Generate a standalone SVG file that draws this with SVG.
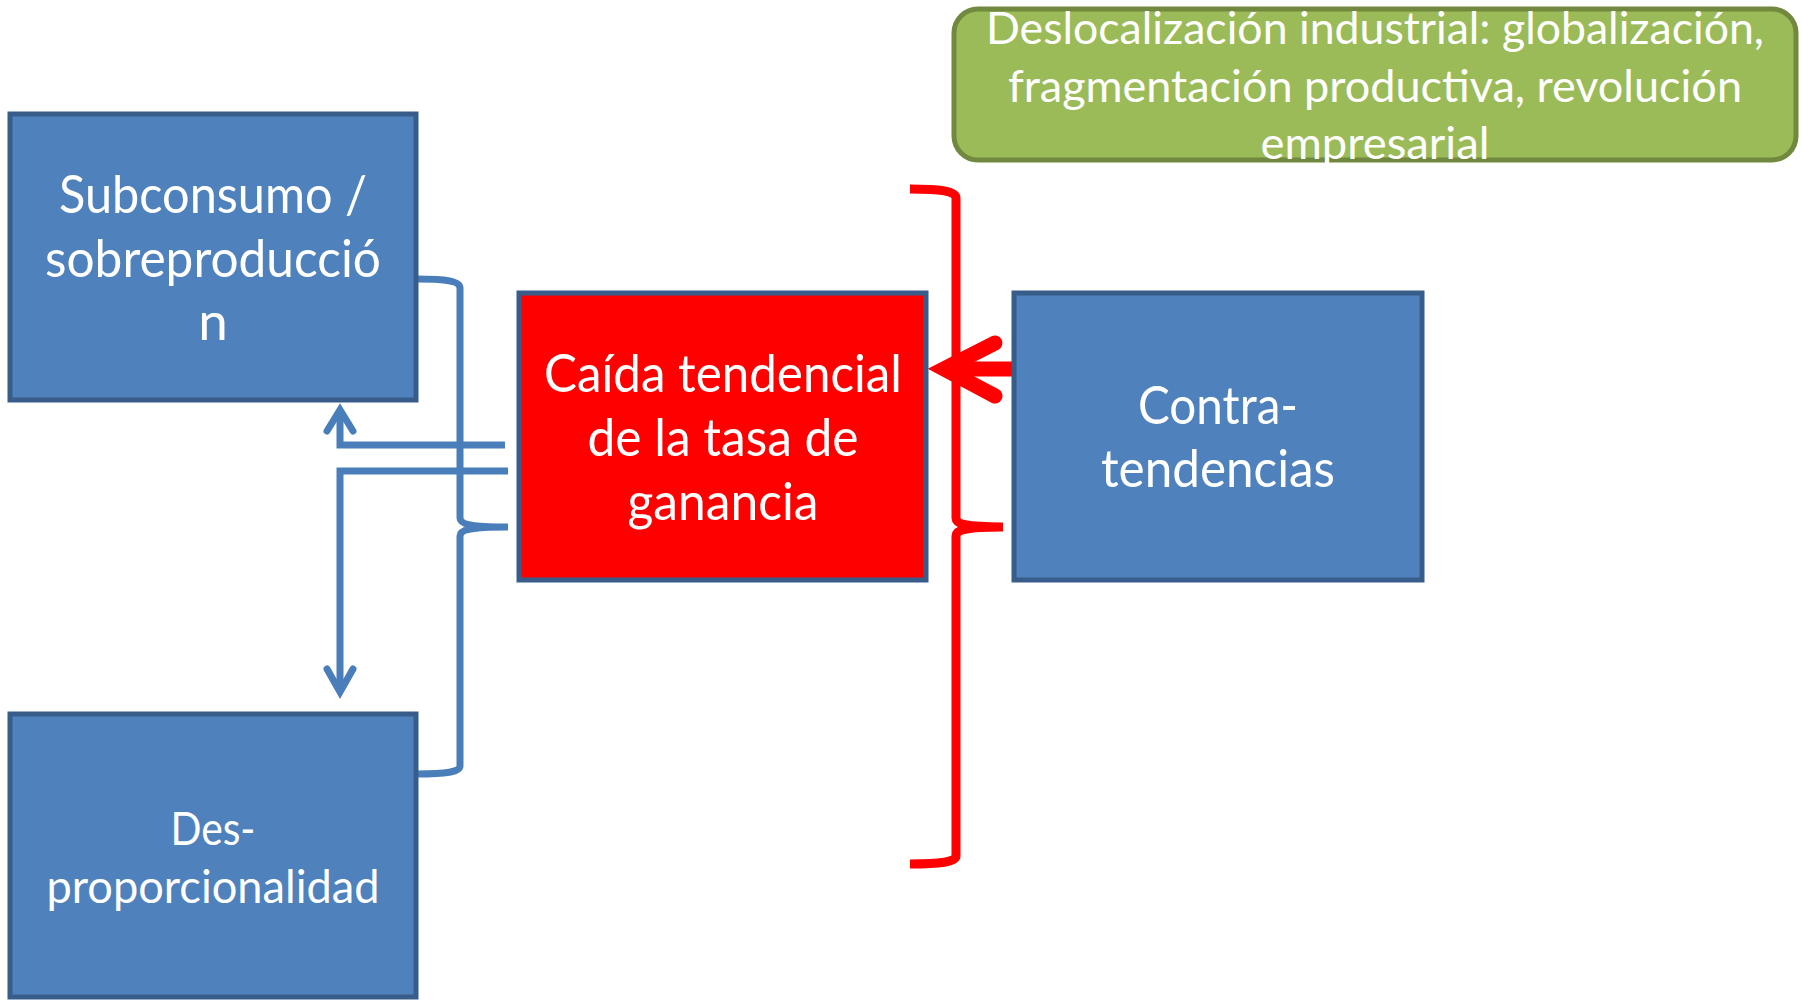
<svg xmlns="http://www.w3.org/2000/svg" width="1802" height="1000" viewBox="0 0 1802 1000">
<style>
.box{fill:#4F81BD;stroke:#385D8A;stroke-width:5}
.red{fill:#FF0000;stroke:#385D8A;stroke-width:5}
.green{fill:#9BBB59;stroke:#71893F;stroke-width:5}
text{font-family:Lato,"Open Sans",sans-serif;fill:#FFFFFF;text-anchor:middle}
.t53{font-size:53px}
.t47{font-size:47px}
.t45{font-size:45px}
.bl{fill:none;stroke:#4A7EBB;stroke-width:7}
.rd{fill:none;stroke:#FF0000}
</style>
<rect width="1802" height="1000" fill="#FFFFFF"/>
<g id="connectors">
<path class="bl" d="M417,279 C446,279 460,281 460,288 L460,518 C460,524 470,527 508,527 C470,527 460,530 460,536 L460,766 C460,772 446,774 417,774"/>
<path class="bl" d="M505,445 L340,445 L340,412"/>
<path class="bl" stroke-linecap="round" d="M327,431 L340,410 L353,431"/>
<path class="bl" d="M508,471 L340,471 L340,690"/>
<path class="bl" stroke-linecap="round" d="M327,669 L340,692 L353,669"/>
<path class="rd" stroke-width="9" d="M910,189 C940,189 956,191 956,198 L956,518 C956,524 965,527 1003,527 C965,527 956,530 956,536 L956,856 C956,862 940,864 910,864"/>
<path class="rd" stroke-width="15" d="M1014,369 L945,369"/>
<path class="rd" stroke-width="15" stroke-linecap="round" d="M995,343 L944,369 L995,396"/>
</g>
<g id="subconsumo">
<rect class="box" x="10" y="114" width="406" height="286"/>
<text class="t53" x="213" y="213" textLength="308" lengthAdjust="spacingAndGlyphs">Subconsumo /</text>
<text class="t53" x="213" y="277" textLength="336" lengthAdjust="spacingAndGlyphs">sobreproducció</text>
<text class="t53" x="213" y="340">n</text>
</g>
<g id="desproporcionalidad">
<rect class="box" x="10" y="714" width="406" height="283"/>
<text class="t47" x="213" y="845" textLength="85" lengthAdjust="spacingAndGlyphs">Des-</text>
<text class="t47" x="213" y="903" textLength="333" lengthAdjust="spacingAndGlyphs">proporcionalidad</text>
</g>
<g id="caida">
<rect class="red" x="519" y="293" width="407" height="287"/>
<text class="t53" x="723" y="392" textLength="358" lengthAdjust="spacingAndGlyphs">Caída tendencial</text>
<text class="t53" x="723" y="456" textLength="271" lengthAdjust="spacingAndGlyphs">de la tasa de</text>
<text class="t53" x="723" y="520" textLength="191" lengthAdjust="spacingAndGlyphs">ganancia</text>
</g>
<g id="contratendencias">
<rect class="box" x="1014" y="293" width="408" height="287"/>
<text class="t53" x="1218" y="424" textLength="160" lengthAdjust="spacingAndGlyphs">Contra-</text>
<text class="t53" x="1218" y="487" textLength="234" lengthAdjust="spacingAndGlyphs">tendencias</text>
</g>
<g id="deslocalizacion">
<rect class="green" x="954" y="9" width="842" height="151" rx="24"/>
<text class="t45" x="1375" y="44" textLength="778" lengthAdjust="spacingAndGlyphs">Deslocalización industrial: globalización,</text>
<text class="t45" x="1375" y="102" textLength="734" lengthAdjust="spacingAndGlyphs">fragmentación productiva, revolución</text>
<text class="t45" x="1375" y="159" textLength="229" lengthAdjust="spacingAndGlyphs">empresarial</text>
</g>
</svg>
